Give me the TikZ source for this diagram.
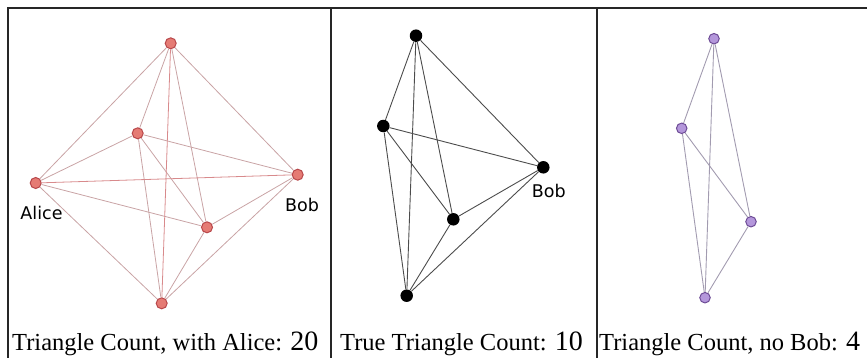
\documentclass[tikz,border=0pt]{standalone}
\usepackage{fontspec}
\setmainfont{Liberation Serif}
\newfontfamily\namefont{DejaVu Sans}
\usetikzlibrary{positioning}
\definecolor{dotred}{HTML}{E57B74}
\definecolor{rimred}{HTML}{B8474A}
\definecolor{edgered}{HTML}{C9A3A5}
\definecolor{linered}{HTML}{D88A8C}
\definecolor{dotpurple}{HTML}{B497DB}
\definecolor{rimpurple}{HTML}{6E4C96}
\definecolor{edgepurple}{HTML}{A29BB0}

\begin{document}
\begin{tikzpicture}[x=1pt, y=-1pt,
    frame/.style={line width=2pt, draw=black!85},
    reddot/.style={circle, fill=dotred, draw=rimred, line width=1pt, minimum size=11pt, inner sep=0pt},
    blackdot/.style={circle, fill=black, minimum size=12.5pt, inner sep=0pt},
    purpledot/.style={circle, fill=dotpurple, draw=rimpurple, line width=1pt, minimum size=10.5pt, inner sep=0pt},
    redlink/.style={draw=edgered, line width=0.8pt},
    blacklink/.style={draw=black!70, line width=0.9pt},
    purplelink/.style={draw=edgepurple, line width=0.9pt},
    who/.style={font=\namefont\fontsize{17.5}{18}\selectfont, inner sep=0pt},
    caption/.style={font=\fontsize{24.5}{25}\selectfont, anchor=base west, inner sep=0pt}]
    \useasboundingbox (0,0) rectangle (867,358);

    % frame and dividers
    \draw[frame] (8,358) -- (8,8.5) -- (867,8.5);
    \draw[frame] (331,8.5) -- (331,358);
    \draw[frame] (597,8.5) -- (597,358);

    % with Alice
    \node[reddot] (a1) at (170.7,43.3) {};
    \node[reddot] (a2) at (137.7,133.3) {};
    \node[reddot] (alice) at (35.7,183) {};
    \node[reddot] (bobA) at (297.7,174.7) {};
    \node[reddot] (a5) at (207,227.3) {};
    \node[reddot] (a6) at (161.7,303.3) {};
    \foreach \u/\v in {a1/a2, a1/alice, a1/bobA, a1/a5, a2/alice, a2/bobA, a2/a5, a2/a6,
        alice/a5, alice/a6, bobA/a5, bobA/a6, a5/a6}
        \draw[redlink] (\u) -- (\v);
    \draw[redlink, draw=linered] (alice) -- (bobA);
    \draw[redlink, draw=linered] (a1) -- (a6);
    \node[who] (alicetxt) at (41.5,213) {Alice};
    \node[who] (bobtxtA) at (302,204.5) {Bob};

    % true count
    \node[blackdot] (b1) at (416,35.7) {};
    \node[blackdot] (b2) at (383.3,126) {};
    \node[blackdot] (bobB) at (543.3,167.3) {};
    \node[blackdot] (b4) at (453.3,219.3) {};
    \node[blackdot] (b5) at (406.7,295.7) {};
    \foreach \u/\v in {b1/b2, b1/bobB, b1/b4, b1/b5, b2/bobB, b2/b4, b2/b5,
        bobB/b4, bobB/b5, b4/b5}
        \draw[blacklink] (\u) -- (\v);
    \node[who] (bobtxtB) at (548.7,191) {Bob};

    % no Bob
    \node[purpledot] (c1) at (714,38.7) {};
    \node[purpledot] (c2) at (681.7,128.3) {};
    \node[purpledot] (c3) at (751,221.7) {};
    \node[purpledot] (c4) at (705,297.7) {};
    \foreach \u/\v in {c1/c2, c1/c3, c1/c4, c2/c3, c2/c4, c3/c4}
        \draw[purplelink] (\u) -- (\v);

    % captions
    \node[caption] (capA) at (12,350) {Triangle Count, with Alice: {\fontsize{28}{28}\selectfont 20}};
    \node[caption] (capB) at (340,350) {True Triangle Count: {\fontsize{28}{28}\selectfont 10}};
    \node[caption] (capC) at (599,350) {Triangle Count, no Bob: {\fontsize{28}{28}\selectfont 4}};
\end{tikzpicture}
\end{document}
